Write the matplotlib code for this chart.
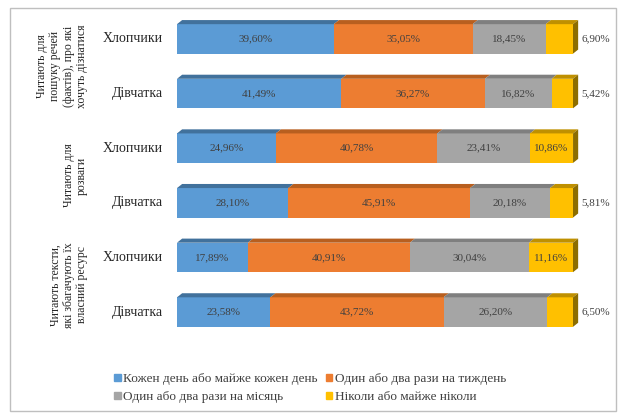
import matplotlib.pyplot as plt
import matplotlib.transforms as mtransforms
from matplotlib.patches import Polygon, Rectangle
import numpy as np

plt.rcParams['font.family'] = ['Liberation Serif', 'DejaVu Serif']

# --- Data ---
groups = [
    "Читають для\nпошуку речей\n(фактів), про які\nхочуть дізнатися",
    "Читають для\nрозваги",
    "Читають тексти,\nякі збагачують їх\nвласний ресурс",
]
rows = ["Хлопчики", "Дівчатка"] * 3
series = [
    "Кожен день або майже кожен день",
    "Один або два рази на тиждень",
    "Один або два рази на місяць",
    "Ніколи або майже ніколи",
]
daily   = [39.60, 41.49, 24.96, 28.10, 17.89, 23.58]
weekly  = [35.05, 36.27, 40.78, 45.91, 40.91, 43.72]
monthly = [18.45, 16.82, 23.41, 20.18, 30.04, 26.20]
never   = [6.90, 5.42, 10.86, 5.81, 11.16, 6.50]

colors = ['#5B9BD5', '#ED7D31', '#A5A5A5', '#FFC000']
tops = ['#41719C', '#B85F1F', '#7F7F7F', '#BF9000']
side = '#8C6D00'

W, H = 619, 413
fig = plt.figure(figsize=(W / 100, H / 100), dpi=100)
ax = fig.add_axes([177 / W, 1 - 339.4 / H, (600 - 177) / W, 327.8 / H])

vals = np.array([daily, weekly, monthly, never])
n = len(rows)
ypos = np.arange(n)[::-1]
bh = 0.54
dx, dy = 1.3, 0.075

for i in range(n):
    y = ypos[i]
    left = 0.0
    for k in range(4):
        v = vals[k, i]
        ax.barh(y, v, left=left, height=bh, color=colors[k], edgecolor='none', zorder=2)
        top = y + bh / 2
        # darker top face for the 3D look
        ax.add_patch(Polygon([(left, top), (left + dx, top + dy), (left + v + dx, top + dy),
                              (left + v, top)], closed=True, facecolor=tops[k],
                             edgecolor='none', zorder=2))
        lab = f"{v:.2f}%".replace('.', ',')
        if k == 3 and v < 10:
            ax.text(100 + dx + 0.8, y, lab, ha='left', va='center', fontsize=8, color='#404040')
        else:
            ax.text(left + v / 2, y, lab, ha='center', va='center', fontsize=8,
                    color='#404040', zorder=3)
        left += v
    bot = y - bh / 2
    top = y + bh / 2
    ax.add_patch(Polygon([(left, bot), (left + dx, bot + dy), (left + dx, top + dy), (left, top)],
                         closed=True, facecolor=side, edgecolor='none', zorder=2))

ax.set_xlim(0, 100 * (600 - 177) / (573 - 177))
ax.set_ylim(-0.5, n - 0.5)
ax.axis('off')

for i in range(n):
    ax.text(-3.5, ypos[i], rows[i], ha='right', va='center', fontsize=10, color='#262626')

trans = mtransforms.blended_transform_factory(fig.transFigure, ax.transData)
for g in range(3):
    yc = (ypos[2 * g] + ypos[2 * g + 1]) / 2
    ax.text(88 / W, yc, groups[g], transform=trans, rotation=90, ha='right', va='center',
            multialignment='center', fontsize=8.5, color='#262626', linespacing=1.15)

handles = [Rectangle((0, 0), 1, 1, color=c) for c in colors]
order = [0, 2, 1, 3]
fig.legend([handles[j] for j in order], [series[j] for j in order], ncol=2,
           loc='center', bbox_to_anchor=(310 / W, 1 - 388 / H), frameon=False,
           fontsize=9.5, handlelength=0.5, handleheight=0.5, handletextpad=0.2,
           columnspacing=0.6, labelspacing=0.45, labelcolor='#404040')

fig.patches.append(Rectangle((10 / W, 2 / H), 606 / W, 403 / H, transform=fig.transFigure,
                             fill=False, edgecolor='#BFBFBF', linewidth=1))

fig.savefig('out.png', dpi=100)
